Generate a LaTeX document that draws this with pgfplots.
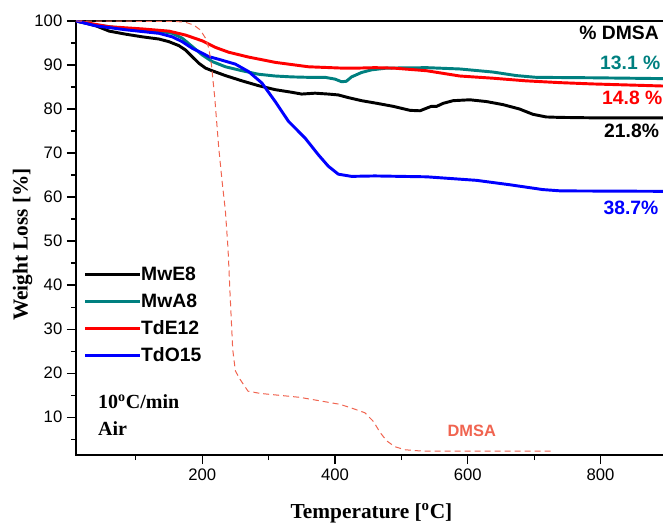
\documentclass[border=0pt]{standalone}
\usepackage{pgfplots}
\pgfplotsset{compat=1.18}
\usepackage{fontspec}
\setmainfont{Liberation Serif}
\newfontfamily\arial{Liberation Sans}
\definecolor{tealc}{RGB}{0,128,128}
\definecolor{dmsac}{RGB}{240,100,80}
\begin{document}
\begin{tikzpicture}
\begin{axis}[
  at={(0,0)}, anchor=south west,
  scale only axis,
  width=443.25pt, height=325.5pt,
  xmin=10, xmax=900, ymin=1.4, ymax=100,
  axis line style={line width=1.1pt},
  xtick={200,400,600,800},
  minor xtick={100,300,500,700,900},
  ytick={10,20,...,100},
  minor ytick={5,15,...,95},
  tick align=outside,
  xtick pos=bottom, ytick pos=left,
  major tick length=6.75pt, minor tick length=3.75pt,
  tick style={line width=0.9pt, black},
  /pgf/number format/assume math mode=true,
  ticklabel style={font=\arial\fontsize{12.5}{14}\selectfont},
  xlabel={\bfseries Temperature [\textsuperscript{o}C]},
  ylabel={\bfseries Weight Loss [\%]},
  label style={font=\fontsize{16}{18}\selectfont},
  xlabel style={at={(axis description cs:0.5,0)}, anchor=center, yshift=-43.5pt},
  ylabel style={at={(axis description cs:0,0.485)}, anchor=center, yshift=40pt},
  legend style={draw=none, fill=none, at={(axis cs:21,44.5)}, anchor=north west,
    font=\arial\bfseries\fontsize{14.5}{16}\selectfont,
    nodes={inner sep=0pt, text height=11pt, text depth=3pt},
    row sep=6.25pt, inner sep=0pt},
  legend cell align=left,
  legend image code/.code={\draw[#1, line width=2.2pt] (0pt,0pt) -- (36pt,0pt);
     \path (0pt,0pt) -- (41pt,0pt);},
  every axis plot/.append style={line join=round},
]
\addplot[black, line width=2.2pt] coordinates {
(10,100) (25,99.5) (40,98.9) (60,97.7) (85,97.0) (110,96.4) (135,95.9) (150,95.3)
(165,94.4) (175,93.4) (185,91.9) (195,90.4) (205,89.3) (215,88.7) (235,87.6) (260,86.4)
(285,85.3) (310,84.4) (335,83.8) (350,83.4) (370,83.6) (390,83.4) (405,83.2) (420,82.6)
(440,81.9) (463,81.3) (488,80.6) (513,79.7) (528,79.6) (538,80.2) (545,80.6) (553,80.6)
(563,81.3) (578,81.9) (603,82.1) (628,81.7) (653,81.0) (678,80.0) (698,78.8) (718,78.2)
(738,78.1) (788,78.0) (900,78.0)};
\addlegendentry{MwE8}
\addplot[tealc, line width=2.2pt] coordinates {
(10,100) (40,99.1) (85,98.2) (135,97.7) (155,97.2) (170,96.1) (185,94.2) (200,92.3)
(215,90.8) (235,89.6) (260,88.7) (285,87.9) (310,87.5) (335,87.3) (360,87.2) (385,87.2)
(400,86.8) (410,86.2) (417,86.3) (425,87.3) (440,88.3) (455,88.9) (478,89.3) (538,89.4)
(588,89.1) (638,88.4) (673,87.6) (703,87.2) (788,87.1) (900,86.9)};
\addlegendentry{MwA8}
\addplot[red, line width=2.2pt] coordinates {
(10,100) (60,98.7) (110,98.2) (150,97.7) (175,96.8) (200,95.5) (220,94.0) (240,92.9)
(270,91.8) (310,90.6) (360,89.6) (410,89.3) (435,89.3) (460,89.4) (488,89.3) (538,88.7)
(588,87.5) (638,87.0) (688,86.4) (738,86.0) (788,85.7) (900,85.2)};
\addlegendentry{TdE12}
\addplot[blue, line width=2.2pt] coordinates {
(10,100) (40,98.9) (85,98.0) (135,97.2) (155,96.4) (170,95.3) (185,93.8) (200,92.7)
(210,91.9) (225,91.3) (250,90.2) (270,88.5) (290,85.9) (310,81.7) (330,77.2) (355,73.4)
(375,69.6) (390,67.0) (405,65.2) (425,64.7) (460,64.8) (538,64.6) (613,63.8) (663,62.8)
(713,61.7) (740,61.4) (900,61.3)};
\addlegendentry{TdO15}
\addplot[dmsac, line width=0.75pt, dash pattern=on 4.5pt off 3pt, forget plot] coordinates {
(10,100) (160,99.9) (175,99.7) (187,99.1) (197,98.0) (205,96.1) (210,93.8) (214,90.0)
(219,82.5) (225,71.1) (230,63.6) (235,56.8) (239,48.1) (242,38) (246,25.4) (250,20.5)
(257,18.6) (269,15.9) (287,15.4) (347,14.5) (408,12.9) (430,11.8) (445,11.0) (458,9.0)
(468,6.5) (478,4.6) (490,3.3) (505,2.6) (530,2.3) (727,2.3)};
\node[anchor=west, inner sep=0pt, font=\arial\bfseries\fontsize{14.5}{16}\selectfont] at (axis cs:767.5,97.3) {\% DMSA};
\node[anchor=west, inner sep=0pt, tealc, font=\arial\bfseries\fontsize{14.5}{16}\selectfont] at (axis cs:799,90.5) {13.1 \%};
\node[anchor=west, inner sep=0pt, red, font=\arial\bfseries\fontsize{14.5}{16}\selectfont] at (axis cs:802,82.5) {14.8 \%};
\node[anchor=west, inner sep=0pt, black, font=\arial\bfseries\fontsize{14.5}{16}\selectfont] at (axis cs:805,75.1) {21.8\%};
\node[anchor=west, inner sep=0pt, blue, font=\arial\bfseries\fontsize{14.5}{16}\selectfont] at (axis cs:804,57.6) {38.7\%};
\node[anchor=center, inner sep=0pt, dmsac, font=\arial\bfseries\fontsize{12.3}{14}\selectfont] at (axis cs:606,6.8) {DMSA};
\node[anchor=west, inner sep=0pt, font=\bfseries\fontsize{15}{17}\selectfont] at (axis cs:43,13.6) {10\textsuperscript{o}C/min};
\node[anchor=west, inner sep=0pt, font=\bfseries\fontsize{15}{17}\selectfont] at (axis cs:43,7.3) {Air};
\end{axis}
\pgfresetboundingbox
\path[use as bounding box] (-57pt,-52.5pt) rectangle (440.25pt,341.25pt);
\end{tikzpicture}
\end{document}
